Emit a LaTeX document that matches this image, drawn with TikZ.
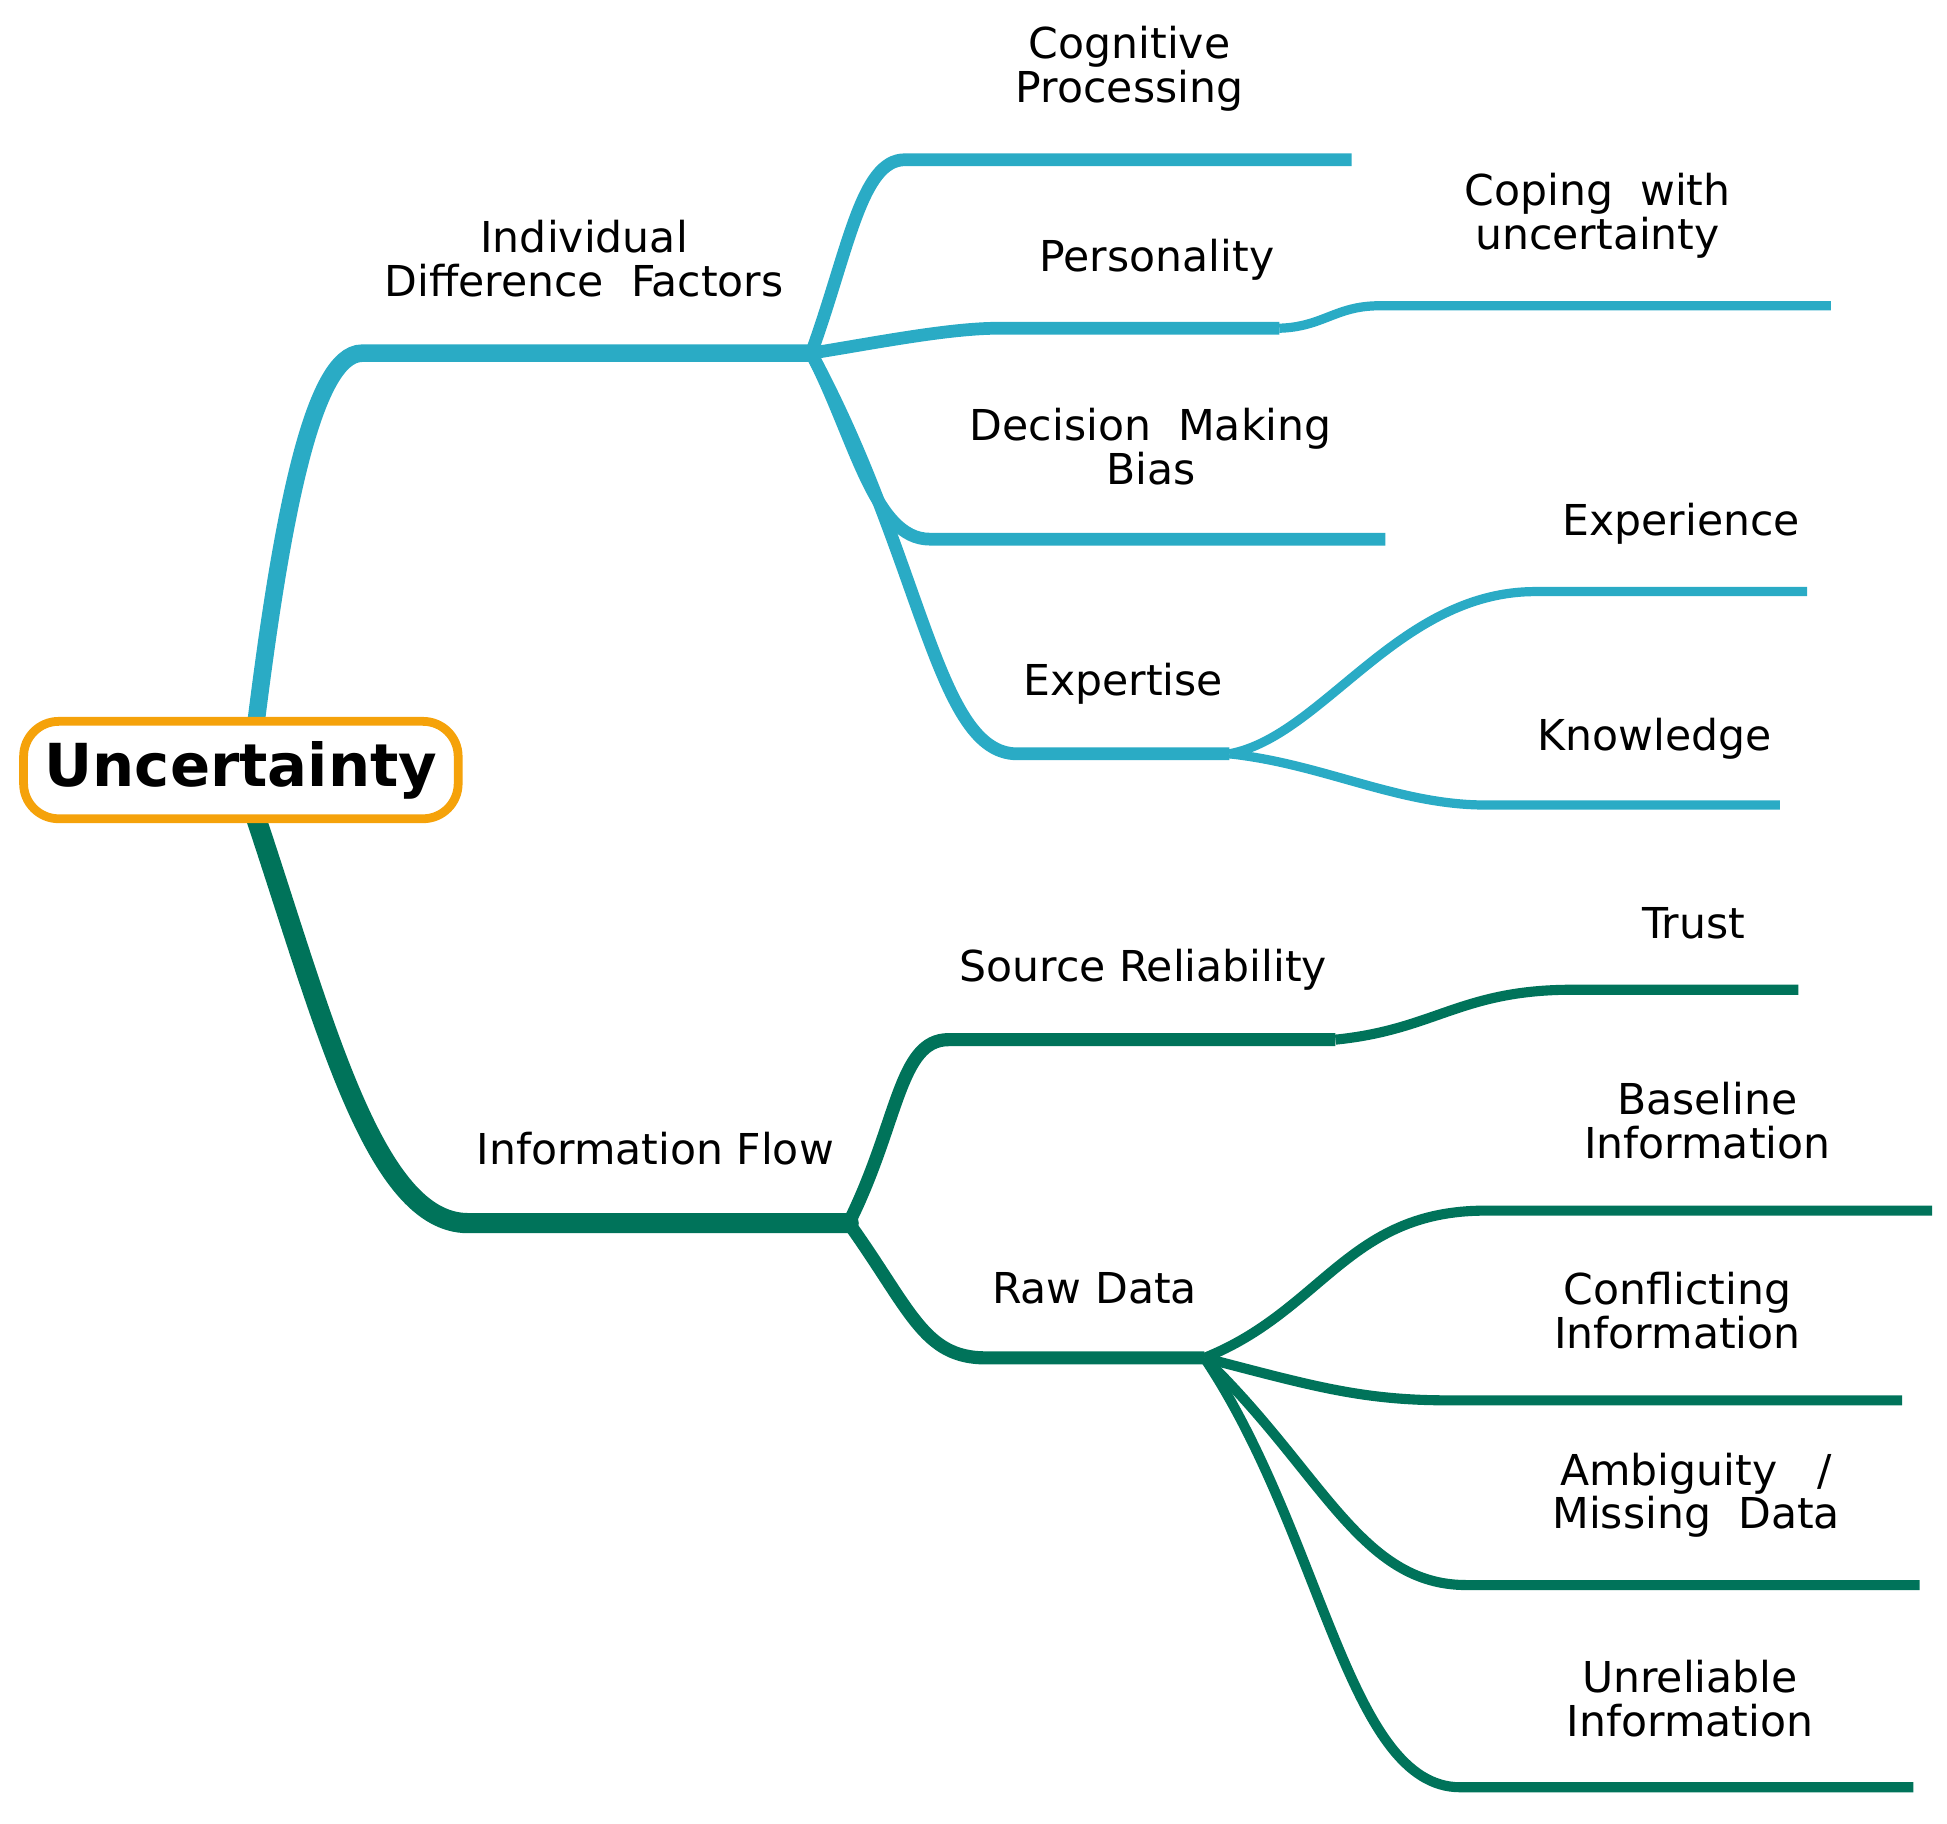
\documentclass[tikz,border=0pt]{standalone}
\usepackage{fontspec}
\setmainfont{DejaVu Sans}
\definecolor{cA}{HTML}{2AABC5}
\definecolor{cB}{HTML}{00735A}
\definecolor{cO}{HTML}{F5A20A}
\begin{document}
\begin{tikzpicture}[x=0.01cm,y=-0.01cm,
  lbl/.style={font=\fontsize{9.7pt}{10pt}\selectfont,align=center,inner sep=0pt},
  tA/.style={cA,line width=4pt,line cap=round},
  bA/.style={cA,line width=2.9pt},
  sA/.style={cA,line width=2.1pt},
  tB/.style={cB,line width=4.6pt,line cap=round},
  bB/.style={cB,line width=3pt},
  sB/.style={cB,line width=2.3pt}]
\useasboundingbox (0,0) rectangle (1560,1461);
% top
\coordinate (J1) at (650,283);
\draw[tA] (205,580) .. controls (225,420) and (250,283) .. (290,283) -- (J1);
\draw[bA] (J1) .. controls (680,200) and (690,128) .. (725,128) -- (1083,128);
\draw[bA] (J1) .. controls (700,275) and (760,263) .. (800,263) -- (1025,263);
\draw[sA] (1025,263) .. controls (1060,262) and (1070,245) .. (1105,245) -- (1467,245);
\draw[bA] (J1) .. controls (685,350) and (700,432) .. (745,432) -- (1110,432);
\draw[bA] (J1) .. controls (740,450) and (750,604) .. (815,604) -- (985,604);
\coordinate (J2) at (985,604);
\draw[sA] (J2) .. controls (1060,590) and (1120,474) .. (1230,474) -- (1448,474);
\draw[sA] (J2) .. controls (1060,612) and (1120,645) .. (1190,645) -- (1426,645);
% bottom
\coordinate (J3) at (680,980);
\draw[tB] (205,655) .. controls (260,820) and (300,980) .. (375,980) -- (J3);
\draw[bB] (J3) .. controls (720,900) and (720,833) .. (760,833) -- (1070,833);
\draw[sB] (1070,833) .. controls (1150,825) and (1170,793) .. (1260,793) -- (1441,793);
\draw[bB] (J3) .. controls (730,1050) and (740,1088) .. (790,1088) -- (965,1088);
\coordinate (J4) at (965,1088);
\draw[sB] (J4) .. controls (1060,1050) and (1080,970) .. (1190,970) -- (1548,970);
\draw[sB] (J4) .. controls (1050,1110) and (1090,1122) .. (1160,1122) -- (1524,1122);
\draw[sB] (J4) .. controls (1060,1180) and (1090,1270) .. (1175,1270) -- (1538,1270);
\draw[sB] (J4) .. controls (1060,1230) and (1080,1432) .. (1170,1432) -- (1533,1432);
% root
\node[draw=cO,line width=2pt,rounded corners=8pt,fill=white,minimum width=3.48cm,minimum height=0.78cm,inner xsep=2pt,font=\fontsize{13.5pt}{14pt}\selectfont\bfseries] (root) at (193,617) {Uncertainty};
% labels
\node[lbl] (l1) at (468,207) {Individual\\Difference\ \ Factors};
\node[lbl] (l2) at (905,55) {Cognitive\\Processing};
\node[lbl] (l3) at (927,208) {Personality};
\node[lbl] (l4) at (1280,173) {Coping\ \ with\\uncertainty};
\node[lbl] (l5) at (922,358) {Decision\ \ Making\\Bias};
\node[lbl] (l6) at (1347,420) {Experience};
\node[lbl] (l7) at (900,548) {Expertise};
\node[lbl] (l8) at (1326,592) {Knowledge};
\node[lbl] (l9) at (525,920) {Information Flow};
\node[lbl] (l10) at (916,777) {Source Reliability};
\node[lbl] (l11) at (1357,740) {Trust};
\node[lbl] (l12) at (877,1032) {Raw Data};
\node[lbl] (l13) at (1368,898) {Baseline\\Information};
\node[lbl] (l14) at (1344,1050) {Conflicting\\Information};
\node[lbl] (l15) at (1359,1198) {Ambiguity\ \ \ /\\Missing\ \ Data};
\node[lbl] (l16) at (1354,1361) {Unreliable\\Information};
\end{tikzpicture}
\end{document}
